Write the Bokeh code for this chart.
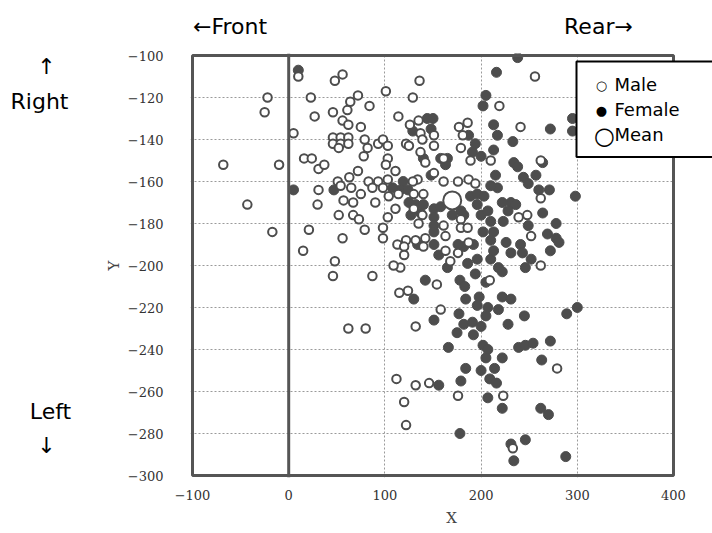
from bokeh.plotting import figure
from bokeh.layouts import row
from bokeh.models import Range1d, FixedTicker, Span, Label, LinearAxis, BoxAnnotation
from bokeh.embed import file_html
from bokeh.resources import INLINE

# ---- data ----
male_x = [-22, -25, -68, -10, -43, -17,
          10, 48, 56, 23, 27, 5, 46, 61, 64, 72, 84, 56, 62, 75,
          46, 54, 62, 46, 54, 62, 52,
          79, 82, 78, 16, 24, 31, 37, 31, 30, 57, 67, 52, 67, 73, 79, 21, 56, 15, 48, 46, 87, 62, 80,
          93, 72, 63, 51, 54, 65, 75, 83, 93, 87, 90,
          129, 114, 126, 135, 177, 186,
          219, 241, 262, 262, 248, 239, 252, 262,
          256, 136, 101,
          116, 154, 115, 124, 158, 132, 209, 112, 132, 146, 176, 120, 122, 223, 279, 233,
          98, 103, 103, 101, 111, 122, 125, 137, 139, 151, 137, 151, 142, 151, 161,
          134, 129, 103, 98, 104, 114, 111, 103, 130, 140, 130, 139, 135, 161, 163,
          179, 179, 186, 98, 98, 113, 122, 120, 120, 142, 132, 140, 109, 163, 168,
          176, 187, 179, 176, 187, 194, 189, 210, 181, 161]
male_y = [-120, -127, -152, -152, -171, -184,
          -110, -112, -109, -120, -129, -137, -127, -126, -122, -119, -124, -131, -133, -134,
          -139, -139, -139, -142, -142, -142, -144,
          -140, -144, -148, -149, -149, -154, -152, -164, -171, -169, -170, -176, -176, -178, -183, -183, -187, -193, -198, -205, -205, -230, -230,
          -142, -155, -158, -160, -162, -163, -166, -160, -160, -163, -170,
          -120, -129, -133, -131, -134, -132,
          -124, -134, -150, -168, -176, -177, -186, -200,
          -110, -112, -117,
          -201, -209, -213, -212, -221, -229, -207, -254, -257, -256, -262, -265, -276, -262, -249, -287,
          -140, -143, -149, -152, -155, -142, -143, -137, -140, -138, -146, -143, -151, -156, -160,
          -159, -160, -159, -163, -167, -166, -173, -177, -166, -166, -173, -176, -180, -181, -186,
          -178, -182, -182, -182, -187, -190, -188, -191, -195, -187, -188, -191, -200, -193, -198,
          -194, -189, -144, -160, -159, -161, -150, -150, -138, -149]

female_x = [10, 5, 47,
            144, 150, 202, 205,
            272, 295, 295, 213, 233, 234, 238, 244, 249, 257, 264, 260, 271, 298, 264, 278, 269, 278, 281, 272,
            249, 241, 231, 236, 222, 228, 223, 226, 231, 243, 252,
            238, 216,
            165, 142, 130, 178, 183, 194, 205, 218, 222, 246, 184, 198, 196, 207, 205, 218, 222, 231,
            177, 151, 182, 191, 200, 228, 245, 289, 300, 175, 192, 166, 202, 207, 205, 222, 239, 246,
            254, 272, 263, 184, 200, 214, 209, 216, 179, 156, 207, 222, 262, 270, 178, 246, 231, 234, 288,
            129, 148, 187, 194, 191, 200, 213, 217, 158, 165, 163, 140, 148, 119, 116,
            108, 124, 125, 132, 140, 137, 151, 158, 151, 127, 189, 196, 196, 203, 200,
            207, 210, 179, 182, 170, 202, 213, 210, 192, 182, 176, 151, 151, 151, 156,
            134, 196, 186, 210, 213, 217, 215, 210]
female_y = [-107, -164, -164,
            -130, -130, -124, -119,
            -135, -130, -136, -133, -141, -151, -153, -158, -161, -157, -151, -164, -164, -167, -175, -180, -185, -187, -189, -193,
            -181, -190, -170, -171, -170, -174, -179, -189, -194, -194, -197,
            -101, -108,
            -201, -207, -216, -207, -210, -204, -208, -201, -203, -201, -216, -215, -219, -220, -224, -221, -215, -216,
            -223, -226, -228, -227, -229, -228, -224, -223, -220, -232, -233, -239, -238, -240, -244, -244, -239, -238,
            -237, -236, -245, -249, -250, -249, -254, -256, -255, -257, -263, -268, -268, -271, -280, -283, -285, -293, -291,
            -136, -135, -138, -142, -146, -148, -145, -138, -149, -149, -152, -149, -157, -160, -164,
            -163, -164, -170, -171, -171, -175, -173, -172, -177, -176, -167, -166, -171, -167, -176,
            -174, -179, -174, -176, -176, -184, -184, -188, -190, -191, -190, -181, -184, -190, -195,
            -190, -197, -199, -197, -193, -163, -157, -162]

mean_x = [170]
mean_y = [-169]

x_min, x_max = -100, 400
y_min, y_max = -300, -100
x_ticks = [-100, 0, 100, 200, 300, 400]
y_ticks = [-100, -120, -140, -160, -180, -200, -220, -240, -260, -280, -300]
x_grid = [100, 200, 300]
y_grid = [-120, -140, -160, -180, -200, -220, -240, -260, -280]

legend_words = "Male\nFemale\nMean"
legend_marks = ["○", "●", "○"]
top_words = {-61: "←Front", 322: "Rear→"}
side_words = ["↑", "Right", "Left", "↓"]

dark = "#4d4d4d"
W, H = 712, 533
LEFT_W = 90

# ---- layout geometry (pixels) ----
box_l, box_r, box_t, box_b = 192, 673, 55, 475      # visible plot box
pad = 2
fr_l, fr_r, fr_t, fr_b = box_l - pad, W, box_t - pad, box_b + pad
kx = (box_r - box_l) / (x_max - x_min)
ky = (box_b - box_t) / (y_max - y_min)
def dx(px):  # absolute pixel -> x data (for annotations only)
    return x_min + (px - box_l) / kx
def dy(py):
    return y_max - (py - box_t) / ky

p = figure(width=W - LEFT_W, height=H, output_backend="svg", toolbar_location=None,
           x_range=Range1d(dx(fr_l), dx(fr_r)), y_range=Range1d(dy(fr_b), dy(fr_t)),
           min_border_left=fr_l - LEFT_W, min_border_right=0,
           min_border_top=fr_t, min_border_bottom=H - fr_b)
p.background_fill_color = "white"
p.border_fill_color = "white"
p.outline_line_color = None

xax = p.below[0]
yax = p.left[0]
xax.ticker = FixedTicker(ticks=x_ticks)
yax.ticker = FixedTicker(ticks=y_ticks)
p.xgrid.ticker = FixedTicker(ticks=x_grid)
p.ygrid.ticker = FixedTicker(ticks=y_grid)
for g in (p.xgrid, p.ygrid):
    g.grid_line_color = "#9a9a9a"
    g.grid_line_dash = "2 2"
    g.grid_line_width = 1

for ax in (xax, yax):
    ax.axis_line_color = None
    ax.major_tick_line_color = None
    ax.minor_tick_line_color = None
    ax.major_tick_in = 0
    ax.major_tick_out = 0
    ax.major_label_text_font = "DejaVu Serif"
    ax.major_label_text_font_size = "13px"
    ax.major_label_text_color = "#333333"
    ax.axis_label_text_font = "DejaVu Serif"
    ax.axis_label_text_font_style = "normal"
    ax.axis_label_text_font_size = "15px"
    ax.axis_label_text_color = "#444444"
xax.axis_label = "X"
yax.axis_label = "Y"
xax.major_label_standoff = 12
xax.axis_label_standoff = 6
yax.major_label_standoff = 27
yax.axis_label_standoff = 2

top_ax = LinearAxis(ticker=FixedTicker(ticks=list(top_words.keys())),
                    major_label_overrides=top_words,
                    axis_line_color=None, major_tick_line_color=None,
                    minor_tick_line_color=None, major_tick_in=0, major_tick_out=0,
                    major_label_standoff=15, major_label_text_font="DejaVu Sans",
                    major_label_text_font_size="22px", major_label_text_color="black")
p.add_layout(top_ax, "above")

p.scatter(female_x, female_y, marker="circle", size=10, fill_color=dark,
          line_color=dark, line_width=1)
p.scatter(male_x, male_y, marker="circle", size=8.5, fill_color="white",
          line_color=dark, line_width=2)
p.scatter(mean_x, mean_y, marker="circle", size=18, fill_color="white",
          line_color=dark, line_width=2)

# white strip right of the box (hides grid lines there)
p.add_layout(BoxAnnotation(left=x_max, right=dx(W + 50), bottom=dy(H + 50), top=dy(-50),
                           fill_color="white", fill_alpha=1, line_color=None))
p.add_layout(Span(location=0, dimension="height", line_color="#555555", line_width=3))
p.add_layout(BoxAnnotation(left=x_min, right=x_max, bottom=y_min, top=y_max,
                           fill_color=None, fill_alpha=0, line_color="#555555",
                           line_width=3, line_alpha=1))

# legend box
p.add_layout(Label(x=dx(576), y=dy(61), text=legend_words, text_font="DejaVu Sans",
                   text_font_size="18px", text_align="left", text_baseline="top",
                   text_color="black", background_fill_color="white",
                   border_line_color="black", border_line_width=2,
                   padding=dict(left=38, right=40, top=12, bottom=12)))
for (mx, my, fs), mk in zip([(601, 85, "13px"), (601, 110, "13px"), (604, 135, "24px")],
                            legend_marks):
    p.add_layout(Label(x=dx(mx), y=dy(my), text=mk, text_font="DejaVu Sans",
                       text_font_size=fs, text_align="center", text_baseline="middle",
                       text_color="black"))

# left strip with side texts (its frame is aligned with the main frame by the row)
side = figure(width=LEFT_W, height=H, output_backend="svg", toolbar_location=None,
              x_range=Range1d(0, LEFT_W), y_range=Range1d(fr_b, fr_t),
              x_axis_type=None, y_axis_type=None, min_border=0,
              min_border_top=fr_t, min_border_bottom=H - fr_b)
side.outline_line_color = None
side.grid.visible = False
side.background_fill_color = "white"
side.border_fill_color = "white"
for (sx, sy), t in zip([(46, 66), (39, 101), (50, 411), (46, 445)], side_words):
    side.add_layout(Label(x=sx, y=sy, text=t, text_font="DejaVu Sans", text_font_size="22px",
                          text_align="center", text_baseline="middle", text_color="black"))

layout = row(side, p, spacing=0)
open("out.html", "w").write(file_html(layout, INLINE))
